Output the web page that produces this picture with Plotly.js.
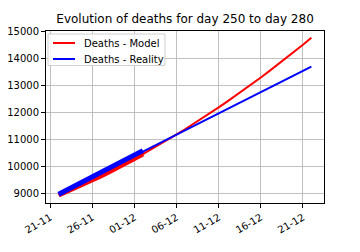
<!DOCTYPE html>
<html>
<head>
<meta charset="utf-8">
<script src="https://cdn.plot.ly/plotly-3.0.1.min.js"></script>
<style>html,body{margin:0;padding:0;background:#fff;}#chart{width:360px;height:252px;}</style>
</head>
<body>
<div id="chart"></div>
<script>
// Dates: day 250 .. 280
const dates = ["2020-11-22","2020-11-23","2020-11-24","2020-11-25","2020-11-26","2020-11-27","2020-11-28","2020-11-29","2020-11-30","2020-12-01","2020-12-02","2020-12-03","2020-12-04","2020-12-05","2020-12-06","2020-12-07","2020-12-08","2020-12-09","2020-12-10","2020-12-11","2020-12-12","2020-12-13","2020-12-14","2020-12-15","2020-12-16","2020-12-17","2020-12-18","2020-12-19","2020-12-20","2020-12-21","2020-12-22"];
const modelDeaths = [8960,9092,9228,9369,9514,9663,9816,9973,10134,10300,10470,10644,10822,11005,11192,11383,11578,11777,11980,12188,12400,12616,12836,13061,13290,13523,13760,14001,14246,14496,14750];
const realityDates = ["2020-11-22","2020-12-22"];
const realityTrend = [8990,13690];
const observedDates = ["2020-11-22","2020-11-23","2020-11-24","2020-11-25","2020-11-26","2020-11-27","2020-11-28","2020-11-29","2020-11-30","2020-12-01","2020-12-02"];
const observedDeaths = [8990,9150,9310,9465,9625,9785,9945,10105,10265,10430,10595];
const modelFitCount = 11;
const seriesNames = ["Deaths - Model","Deaths - Reality"];
const xTickVals = ["2020-11-21","2020-11-26","2020-12-01","2020-12-06","2020-12-11","2020-12-16","2020-12-21"];
const xTickText = ["21-11","26-11","01-12","06-12","11-12","16-12","21-12"];
const yTickVals = [9000,10000,11000,12000,13000,14000,15000];

const RED = "#ff0000", BLUE = "#0000ff";
const traces = [
  {x: dates, y: modelDeaths, mode: "lines", name: seriesNames[0], showlegend: false, line: {color: RED, width: 2}},
  {x: realityDates, y: realityTrend, mode: "lines", name: seriesNames[1], showlegend: false, line: {color: BLUE, width: 2}},
  {x: dates.slice(0, modelFitCount), y: modelDeaths.slice(0, modelFitCount), mode: "lines", showlegend: false, line: {color: RED, width: 5}},
  {x: observedDates, y: observedDeaths, mode: "lines", showlegend: false, line: {color: BLUE, width: 5}}
];
const axisCommon = {
  showline: true, mirror: true, linecolor: "#000", linewidth: 1,
  ticks: "outside", ticklen: 4, tickcolor: "#000", tickwidth: 1,
  showgrid: true, gridcolor: "#b0b0b0", gridwidth: 0.8, zeroline: false,
  tickfont: {family: "DejaVu Sans", size: 10, color: "#000"}
};
// Matplotlib-style legend box (paper coordinates of the plot area)
const legendColors = [RED, BLUE];
const legendRowsY = [0.9302, 0.8372];
const shapes = [
  {type: "rect", xref: "paper", yref: "paper", x0: 0.0072, x1: 0.428, y0: 0.7994, y1: 0.9826, fillcolor: "rgba(255,255,255,0.85)", line: {color: "#d0d0d0", width: 1}, layer: "above"}
];
const annotations = [];
seriesNames.forEach((nm, i) => {
  shapes.push({type: "line", xref: "paper", yref: "paper", x0: 0.0252, x1: 0.1043, y0: legendRowsY[i], y1: legendRowsY[i], line: {color: legendColors[i], width: 2}, layer: "above"});
  annotations.push({xref: "paper", yref: "paper", x: 0.1295, y: legendRowsY[i], xanchor: "left", yanchor: "middle", text: nm, showarrow: false, font: {family: "DejaVu Sans", size: 10, color: "#000"}});
});
const layout = {
  width: 360, height: 252,
  margin: {l: 46, r: 36, t: 31, b: 49},
  paper_bgcolor: "#fff", plot_bgcolor: "#fff",
  title: {text: "Evolution of deaths for day 250 to day 280", font: {family: "DejaVu Sans", size: 12, color: "#000"}, x: 0.514, xanchor: "center", y: 0.925, yanchor: "middle"},
  xaxis: Object.assign({}, axisCommon, {type: "date", range: ["2020-11-20 12:00", "2020-12-23 12:00"], tickvals: xTickVals, ticktext: xTickText, tickangle: -30}),
  yaxis: Object.assign({}, axisCommon, {range: [8667, 15000], tickvals: yTickVals, tickformat: "d"}),
  shapes: shapes,
  annotations: annotations,
  showlegend: false
};
Plotly.newPlot("chart", traces, layout, {staticPlot: true, displayModeBar: false});
</script>
</body>
</html>
